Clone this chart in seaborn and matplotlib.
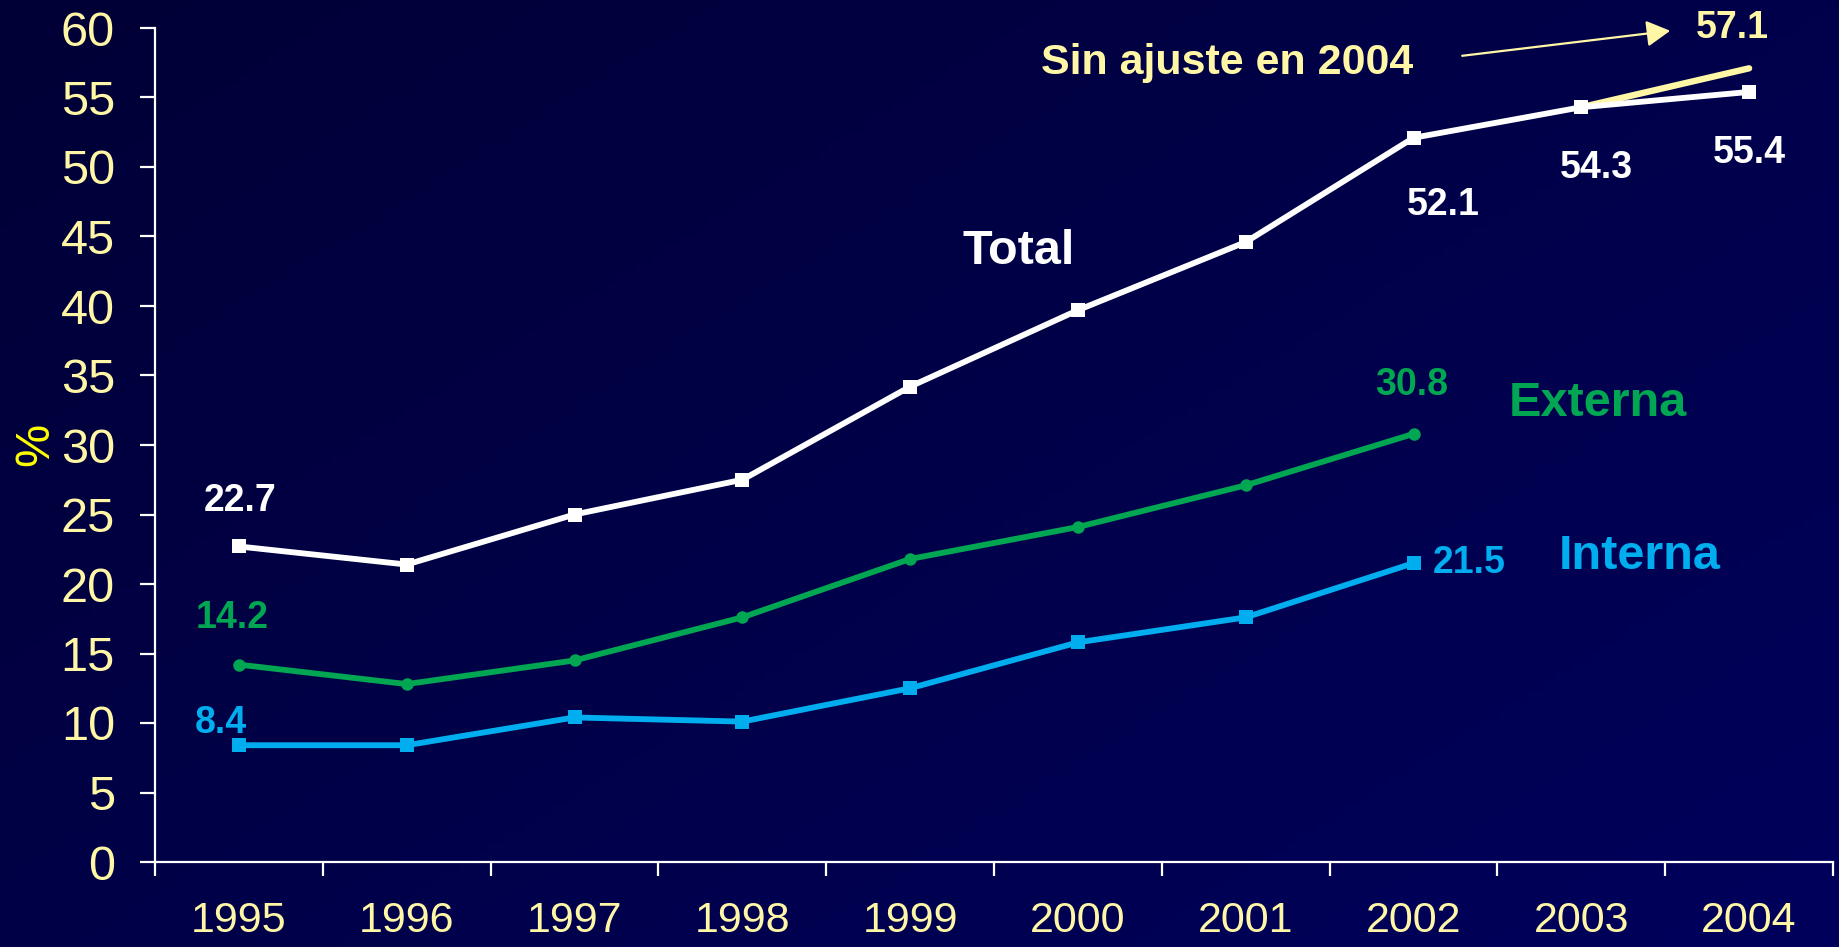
import matplotlib
matplotlib.use("Agg")
import matplotlib.pyplot as plt
import seaborn as sns
import numpy as np
import pandas as pd
from matplotlib.colors import LinearSegmentedColormap

# datos (% del PIB)
anios = [1995, 1996, 1997, 1998, 1999, 2000, 2001, 2002, 2003, 2004]
total = [22.7, 21.4, 25.0, 27.5, 34.2, 39.7, 44.6, 52.1, 54.3, 55.4]
externa = [14.2, 12.8, 14.5, 17.6, 21.8, 24.1, 27.1, 30.8]
interna = [8.4, 8.4, 10.4, 10.1, 12.5, 15.8, 17.6, 21.5]
sin_ajuste_anios = [2003, 2004]
sin_ajuste = [54.3, 57.1]

BLANCO = "#FFFFFF"
VERDE = "#00A651"
CIAN = "#00AEEF"
AMARILLO_CLARO = "#FFF7A6"
AMARILLO = "#FFFF00"

sns.set_style("white")
plt.rcParams["font.family"] = ["Liberation Sans", "DejaVu Sans"]

fig = plt.figure(figsize=(18.4, 9.47), dpi=100)

# fondo degradado azul marino
fondo = fig.add_axes([0, 0, 1, 1], zorder=-10)
gx, gy = np.meshgrid(np.linspace(0, 1, 200), np.linspace(0, 1, 100))
grad = 0.55 * gx + 0.45 * gy
cmap_fondo = LinearSegmentedColormap.from_list("fondo", ["#000036", "#00005C"])
fondo.imshow(grad, cmap=cmap_fondo, aspect="auto", extent=[0, 1, 0, 1], origin="upper")
fondo.axis("off")

ax = fig.add_axes([155 / 1840, 85 / 947, 1678 / 1840, 834 / 947])
ax.set_facecolor("none")

df_total = pd.DataFrame({"anio": anios, "valor": total})
df_ext = pd.DataFrame({"anio": anios[:len(externa)], "valor": externa})
df_int = pd.DataFrame({"anio": anios[:len(interna)], "valor": interna})
df_sa = pd.DataFrame({"anio": sin_ajuste_anios, "valor": sin_ajuste})

sns.lineplot(data=df_sa, x="anio", y="valor", ax=ax, color=AMARILLO_CLARO,
             linewidth=4.6, solid_capstyle="round", zorder=2)
sns.lineplot(data=df_total, x="anio", y="valor", ax=ax, color=BLANCO, linewidth=4.2,
             marker="s", markersize=9.5, markeredgewidth=0, zorder=3)
sns.lineplot(data=df_ext, x="anio", y="valor", ax=ax, color=VERDE, linewidth=4.2,
             marker="o", markersize=9, markeredgewidth=0, zorder=3)
sns.lineplot(data=df_int, x="anio", y="valor", ax=ax, color=CIAN, linewidth=4.2,
             marker="s", markersize=9.5, markeredgewidth=0, zorder=3)

ax.set_xlim(anios[0] - 0.5, anios[-1] + 0.5)
ax.set_ylim(0, 60)
ax.set_yticks(range(0, 61, 5))
ax.set_xticks(anios)
ax.set_xticklabels([str(a) for a in anios])
ax.set_xticks(np.arange(anios[0] - 0.5, anios[-1] + 0.6, 1), minor=True)

for lado in ["top", "right"]:
    ax.spines[lado].set_visible(False)
for lado in ["left", "bottom"]:
    ax.spines[lado].set_color(BLANCO)
    ax.spines[lado].set_linewidth(1.6)

ax.tick_params(axis="y", which="major", left=True, length=10.8, width=1.6, color=BLANCO,
               labelsize=35, labelcolor=AMARILLO_CLARO, pad=18)
ax.tick_params(axis="x", which="major", bottom=False, length=0,
               labelsize=31, labelcolor=AMARILLO_CLARO, pad=28)
ax.tick_params(axis="x", which="minor", bottom=True, length=10, width=1.6, color=BLANCO)

ax.set_xlabel("")
ax.set_ylabel("")
fig.text(36 / 1840, 1 - 444 / 947, "%", rotation=90, fontsize=35, color=AMARILLO,
         ha="center", va="center")

# etiquetas de valores
def etiqueta(x, y, valor, color):
    ax.text(x, y, f"{valor:.1f}", color=color, fontsize=27, fontweight="bold",
            ha="center", va="center", zorder=5)

etiqueta(anios[0] + 0.01, total[0] + 3.3, total[0], BLANCO)
etiqueta(anios[7] + 0.18, total[7] - 4.8, total[7], BLANCO)
etiqueta(anios[8] + 0.09, total[8] - 4.4, total[8], BLANCO)
etiqueta(anios[9] + 0.0, total[9] - 4.4, total[9], BLANCO)
etiqueta(anios[0] - 0.04, externa[0] + 3.35, externa[0], VERDE)
etiqueta(anios[7] - 0.01, externa[-1] + 3.5, externa[-1], VERDE)
etiqueta(anios[0] - 0.11, interna[0] + 1.6, interna[0], CIAN)
etiqueta(anios[7] + 0.33, interna[-1], interna[-1], CIAN)
etiqueta(sin_ajuste_anios[-1] - 0.1, sin_ajuste[-1] + 2.9, sin_ajuste[-1], AMARILLO_CLARO)

ax.text(1999.65, 43.9, "Total", color=BLANCO, fontsize=35, fontweight="bold",
        ha="center", va="center")
ax.text(2003.1, 33.0, "Externa", color=VERDE, fontsize=35, fontweight="bold",
        ha="center", va="center")
ax.text(2003.35, 22.0, "Interna", color=CIAN, fontsize=35, fontweight="bold",
        ha="center", va="center")

ax.text(2000.89, 57.5, "Sin ajuste en 2004", color=AMARILLO_CLARO, fontsize=31,
        fontweight="bold", ha="center", va="center")
ax.annotate("", xy=(2003.53, 59.8), xytext=(2002.29, 58.0),
            arrowprops=dict(arrowstyle="-|>,head_length=1.45,head_width=0.8",
                            color=AMARILLO_CLARO, lw=1.6, shrinkA=0, shrinkB=0),
            annotation_clip=False)

fig.savefig("out.png", dpi=100, facecolor=fig.get_facecolor())
